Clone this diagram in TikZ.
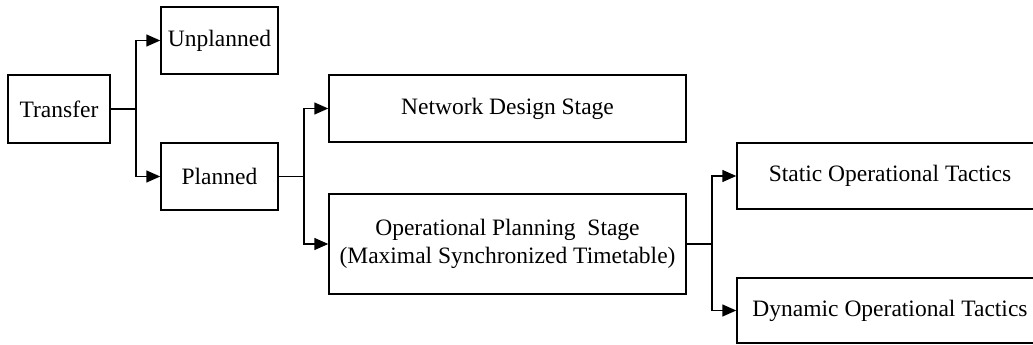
\documentclass[tikz,border=0pt]{standalone}
\usepackage{fontspec}
\setmainfont{Liberation Serif}
\usetikzlibrary{arrows.meta}
\begin{document}
\begin{tikzpicture}[x=1pt,y=-1pt,
  box/.style={draw=black,line width=1.5pt,fill=white,inner sep=0pt,align=center,
    font=\fontsize{23.5}{28}\selectfont},
  link/.style={draw=black,line width=1.5pt,-{Triangle[length=14pt,width=12pt]}}]
\useasboundingbox (0,0) rectangle (1033,345);
\clip (0,0) rectangle (1033,345);

% tree of transfer types and planning stages
\node[box,minimum width=102pt,minimum height=68pt] (transfer) at (59,109) {Transfer};
\node[box,minimum width=117pt,minimum height=67pt] (unplanned) at (219.5,40.5) {Unplanned};
\node[box,minimum width=117pt,minimum height=67pt] (planned) at (219.5,176.5) {Planned};
\node[box,minimum width=357pt,minimum height=67pt] (network) at (507.5,108.5) {Network Design Stage};
\node[box,minimum width=357pt,minimum height=100pt] (oper) at (507.5,244)
  {Operational Planning\ \ Stage\\(Maximal Synchronized Timetable)};
% the right-hand boxes run past the page edge
\node[box,minimum width=306pt,minimum height=66pt] (static) at (890,176)
  {Static Operational Tactics};
\node[box,minimum width=306pt,minimum height=65pt] (dynamic) at (890,310.5)
  {Dynamic Operational Tactics};

% branching connectors
\draw[link] (transfer.east) -- +(25,0) |- (unplanned.west);
\draw[link] (transfer.east) -- +(25,0) |- (planned.west);
\draw[link] (planned.east) -- +(25,0) |- (network.west);
\draw[link] (planned.east) -- +(25,0) |- (oper.west);
\draw[link] (oper.east) -- +(25,0) |- (static.west);
\draw[link] (oper.east) -- +(25,0) |- (dynamic.west);
\end{tikzpicture}
\end{document}
